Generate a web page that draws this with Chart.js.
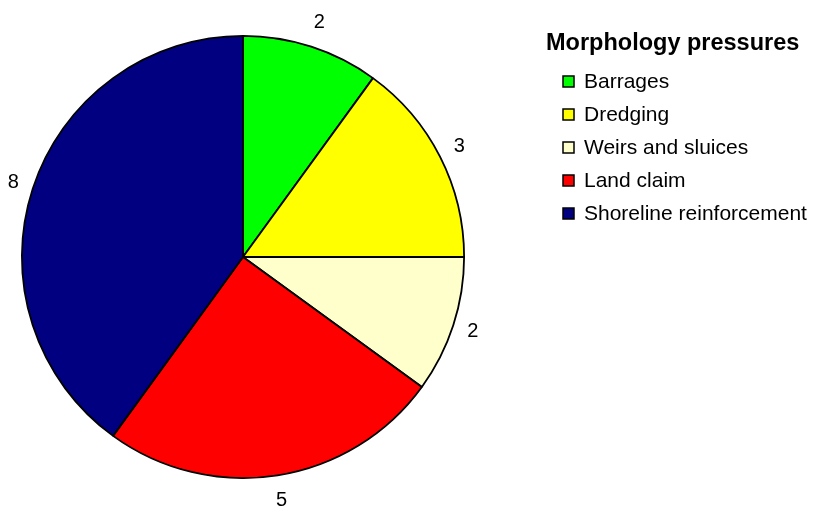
<!DOCTYPE html>
<html>
<head>
<meta charset="utf-8">
<script src="https://cdn.jsdelivr.net/npm/chart.js@4"></script>
<style>
  html, body { margin: 0; padding: 0; background: #fff; }
  #wrap { width: 816px; height: 513px; position: relative; }
</style>
</head>
<body>
<div id="wrap"><canvas id="pie"></canvas></div>
<script>
// --- données ---
const categories = ['Barrages', 'Dredging', 'Weirs and sluices', 'Land claim', 'Shoreline reinforcement'];
const counts = [2, 3, 2, 5, 8];
const sliceColors = ['#00FF00', '#FFFF00', '#FFFFCC', '#FF0000', '#000080'];
const legendTitle = 'Morphology pressures';

const FONT = '"Liberation Sans", Arial, sans-serif';

// étiquettes de valeur autour du camembert
const valueLabels = {
    id: 'valueLabels',
    afterDatasetsDraw(chart) {
        const ctx = chart.ctx;
        const meta = chart.getDatasetMeta(0);
        ctx.save();
        ctx.font = '20px ' + FONT;
        ctx.fillStyle = '#000';
        ctx.textAlign = 'center';
        ctx.textBaseline = 'middle';
        meta.data.forEach((arc, i) => {
            const mid = (arc.startAngle + arc.endAngle) / 2;
            const r = arc.outerRadius + 18 + 8 * Math.abs(Math.sin(mid));
            const x = arc.x + Math.cos(mid) * r;
            const y = arc.y + Math.sin(mid) * r;
            ctx.fillText(String(counts[i]), x, y);
        });
        ctx.restore();
    }
};

// légende dessinée à droite
const sideLegend = {
    id: 'sideLegend',
    afterDraw(chart) {
        const ctx = chart.ctx;
        ctx.save();
        ctx.fillStyle = '#000';
        ctx.textBaseline = 'middle';
        ctx.font = 'bold 23.5px ' + FONT;
        ctx.fillText(legendTitle, 546, 44);
        ctx.font = '21px ' + FONT;
        categories.forEach((c, i) => {
            const y = 81 + i * 33;
            ctx.fillStyle = sliceColors[i];
            ctx.fillRect(563, y - 5, 11, 11);
            ctx.strokeStyle = '#000';
            ctx.lineWidth = 1.5;
            ctx.strokeRect(563, y - 5, 11, 11);
            ctx.fillStyle = '#000';
            ctx.fillText(c, 584, y + 1);
        });
        ctx.restore();
    }
};

new Chart(document.getElementById('pie'), {
    type: 'pie',
    data: {
        labels: categories,
        datasets: [{
            data: counts,
            backgroundColor: sliceColors,
            borderColor: '#000',
            borderWidth: 1.8,
            hoverOffset: 0
        }]
    },
    options: {
        responsive: true,
        maintainAspectRatio: false,
        animation: false,
        layout: { padding: { left: 21, top: 35, right: 351, bottom: 34 } },
        plugins: {
            legend: { display: false },
            tooltip: { enabled: false }
        }
    },
    plugins: [valueLabels, sideLegend]
});
</script>
</body>
</html>
